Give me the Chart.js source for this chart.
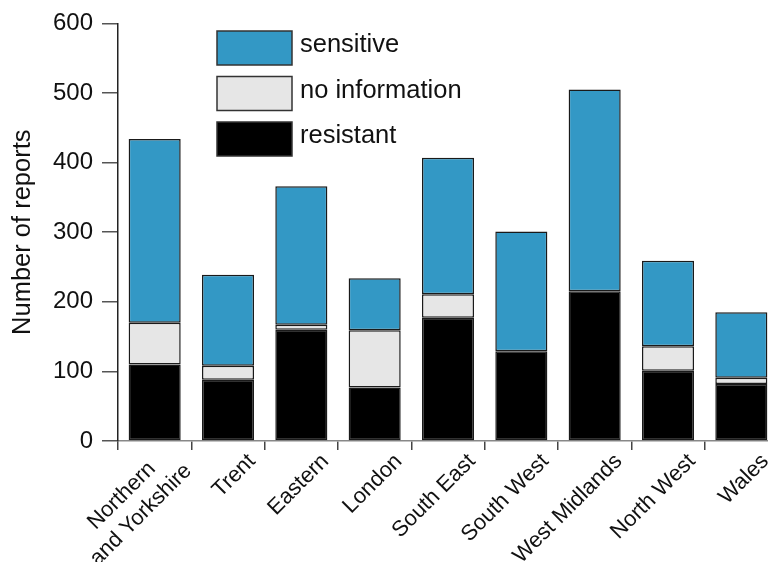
<!DOCTYPE html>
<html>
<head>
<meta charset="utf-8">
<script src="https://cdn.jsdelivr.net/npm/chart.js@4.4.1/dist/chart.umd.min.js"></script>
<style>
    html, body { margin: 0; padding: 0; background: #fff; overflow: hidden; }
    canvas { display: block; }
</style>
</head>
<body>
<canvas id="myChart" width="778" height="562"></canvas>
<script>
    const regions = [["Northern", "and Yorkshire"], "Trent", "Eastern", "London", "South East", "South West", "West Midlands", "North West", "Wales"];
    const resistant = [110, 88, 160, 77, 177, 129, 215, 101, 82];
    const noInformation = [60, 20, 7, 82, 34, 0, 0, 35, 9];
    const sensitive = [264, 131, 199, 75, 196, 172, 290, 123, 94];
    const yTicks = [0, 100, 200, 300, 400, 500, 600];

    const fontFamily = "'Liberation Sans', Arial, Helvetica, sans-serif";

    // legend drawn by hand: big boxes stacked inside the plot
    const boxLegend = {
        id: "boxLegend",
        afterDraw(chart) {
            const ctx = chart.ctx;
            const items = chart.data.datasets.slice().reverse();
            ctx.save();
            items.forEach(function (ds, i) {
                const y = 31 + i * 45.5;
                ctx.fillStyle = ds.backgroundColor;
                ctx.fillRect(217, y, 75, 34);
                ctx.lineWidth = 1.5;
                ctx.strokeStyle = "#333";
                ctx.strokeRect(217, y, 75, 34);
                ctx.fillStyle = "#111";
                ctx.font = "25.5px " + fontFamily;
                ctx.textAlign = "left";
                ctx.textBaseline = "middle";
                ctx.fillText(ds.label, 300, y + 14);
            });
            ctx.restore();
        },
    };

    // rotated category labels, lines centred on each other (chart.js only right-aligns them)
    const slantLabels = {
        id: "slantLabels",
        afterDraw(chart) {
            const ctx = chart.ctx;
            const xScale = chart.scales.x;
            const lineHeight = 27;
            ctx.save();
            ctx.font = "22px " + fontFamily;
            ctx.fillStyle = "#111";
            ctx.textAlign = "center";
            ctx.textBaseline = "middle";
            chart.data.labels.forEach(function (label, i) {
                const lines = Array.isArray(label) ? label : [label];
                const widest = Math.max.apply(null, lines.map(function (l) { return ctx.measureText(l).width; }));
                ctx.save();
                ctx.translate(xScale.getPixelForValue(i) + 24, xScale.top + 17);
                ctx.rotate(-Math.PI / 4);
                lines.forEach(function (line, j) {
                    ctx.fillText(line, -widest / 2, (j - (lines.length - 1) / 2) * lineHeight);
                });
                ctx.restore();
            });
            ctx.restore();
        },
    };

    const ctx = document.getElementById("myChart").getContext("2d");

    const myChart = new Chart(ctx, {
        type: "bar",
        data: {
            labels: regions,
            datasets: [
                {
                    label: "resistant",
                    backgroundColor: "#000000",
                    data: resistant,
                },
                {
                    label: "no information",
                    backgroundColor: "#e6e6e6",
                    data: noInformation,
                },
                {
                    label: "sensitive",
                    backgroundColor: "#3398c5",
                    data: sensitive,
                },
            ],
        },
        options: {
            responsive: false,
            animation: false,
            layout: { padding: 0 },
            datasets: {
                bar: {
                    borderColor: "#1a1a1a",
                    borderWidth: 1.5,
                    borderSkipped: false,
                    barPercentage: 0.71,
                    categoryPercentage: 1,
                },
            },
            plugins: {
                legend: { display: false },
                tooltip: { enabled: false },
            },
            scales: {
                x: {
                    stacked: true,
                    afterFit: function (scale) {
                        scale.height = 121;
                    },
                    grid: {
                        offset: true,
                        drawOnChartArea: false,
                        tickLength: 9,
                        color: "#444",
                        lineWidth: 1.5,
                    },
                    border: { color: "#888", width: 1.5 },
                    ticks: { display: false },
                },
                y: {
                    stacked: true,
                    min: 0,
                    max: 600,
                    afterFit: function (scale) {
                        scale.width = 118;
                    },
                    afterBuildTicks: function (scale) {
                        scale.ticks = yTicks.map(function (v) { return { value: v }; });
                    },
                    grid: {
                        drawOnChartArea: false,
                        tickLength: 16,
                        color: "#555",
                        lineWidth: 1.5,
                    },
                    border: { color: "#222", width: 1.5 },
                    ticks: {
                        padding: 9,
                        color: "#111",
                        font: { family: fontFamily, size: 24 },
                    },
                    title: {
                        display: true,
                        text: "Number of reports",
                        color: "#111",
                        padding: { top: 8, bottom: 0 },
                        font: { family: fontFamily, size: 25.5 },
                    },
                },
            },
        },
        plugins: [boxLegend, slantLabels],
    });
</script>
</body>
</html>
